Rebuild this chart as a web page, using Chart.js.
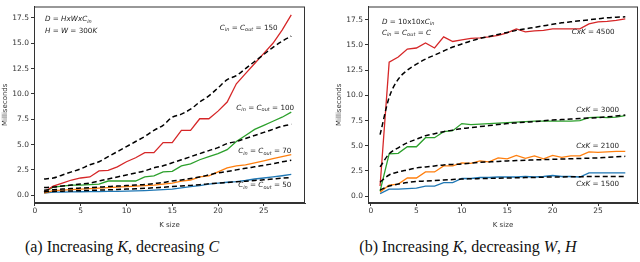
<!DOCTYPE html>
<html>
<head>
<meta charset="utf-8">
<script src="https://cdn.jsdelivr.net/npm/chart.js@4.4.1/dist/chart.umd.min.js"></script>
<style>
  body { margin: 0; background: #fff; width: 640px; height: 262px; position: relative; overflow: hidden; }
  .box { position: absolute; top: 0; width: 320px; height: 230px; }
  .cap { position: absolute; top: 238px; font: 16px "Liberation Serif", serif; color: #111; white-space: nowrap; transform: translateX(-50%); }
</style>
</head>
<body>
<div class="box" style="left:0"><canvas id="chartA" width="320" height="230"></canvas></div>
<div class="box" style="left:320px"><canvas id="chartB" width="320" height="230"></canvas></div>
<div class="cap" style="left:122px">(a) Increasing <i>K</i>, decreasing <i>C</i></div>
<div class="cap" style="left:468px">(b) Increasing <i>K</i>, decreasing <i>W</i>, <i>H</i></div>

<script>
// kernel sizes 1..28
const kSizes = [1,2,3,4,5,6,7,8,9,10,11,12,13,14,15,16,17,18,19,20,21,22,23,24,25,26,27,28];
const yTicks = [0, 2.5, 5, 7.5, 10, 12.5, 15, 17.5];
const xTicks = [0, 5, 10, 15, 20, 25];

// (a) increasing K, decreasing C  (measured / fitted ms)
const a150 = [0.3,0.9,1.2,1.5,1.7,1.8,2.4,2.45,2.8,3.3,3.7,4.2,4.2,5.2,5.2,6.4,6.4,7.55,7.55,8.3,9.2,11.0,12.0,13.0,14.0,15.0,16.3,17.8];
const a150fit = [1.6,1.7,2.0,2.3,2.6,3.0,3.3,3.8,4.3,4.8,5.3,5.8,6.4,6.9,7.7,8.0,8.5,9.2,9.8,10.6,11.4,11.8,12.5,13.2,13.9,14.6,15.2,15.7];
const a100 = [0.3,0.8,0.9,1.0,1.0,1.05,1.1,1.4,1.4,1.4,1.4,1.8,1.9,2.3,2.35,2.9,3.1,3.5,3.8,4.1,4.5,5.3,5.9,6.5,6.9,7.3,7.7,8.2];
const a100fit = [0.75,0.8,0.9,1.0,1.1,1.2,1.4,1.6,1.8,2.0,2.2,2.4,2.7,2.9,3.2,3.5,3.8,4.1,4.4,4.7,5.1,5.3,5.6,5.9,6.2,6.5,6.8,7.0];
const a70 = [0.2,0.45,0.5,0.55,0.6,0.65,0.7,0.75,0.8,0.85,0.9,0.95,1.0,1.1,1.2,1.4,1.5,1.8,1.9,2.3,2.7,2.9,3.0,3.2,3.4,3.6,3.8,4.0];
const a70fit = [0.5,0.55,0.6,0.65,0.7,0.75,0.8,0.85,0.9,0.95,1.0,1.05,1.15,1.25,1.4,1.5,1.65,1.8,2.0,2.2,2.35,2.5,2.65,2.8,2.95,3.1,3.3,3.45];
const a50 = [0.2,0.3,0.3,0.32,0.34,0.35,0.36,0.37,0.38,0.4,0.42,0.45,0.5,0.55,0.6,0.72,0.85,0.95,1.1,1.2,1.28,1.35,1.45,1.6,1.7,1.8,1.92,2.05];
const a50fit = [0.35,0.37,0.4,0.42,0.45,0.47,0.5,0.53,0.56,0.6,0.64,0.68,0.73,0.79,0.85,0.91,0.97,1.04,1.12,1.2,1.26,1.32,1.38,1.45,1.52,1.6,1.68,1.75];

// (b) increasing K, decreasing W,H
const b4500 = [1.0,13.3,13.8,14.6,14.7,15.2,14.7,15.8,15.35,15.5,15.65,15.7,15.8,15.95,16.2,16.6,16.3,16.4,16.45,16.6,16.6,16.6,16.6,17.1,17.3,17.35,17.45,17.6];
const b4500fit = [6.1,9.8,11.6,12.5,13.1,13.6,14.0,14.4,14.8,15.1,15.4,15.65,15.85,16.05,16.25,16.45,16.6,16.75,16.9,17.05,17.2,17.3,17.4,17.5,17.6,17.7,17.75,17.8];
const b3000 = [0.5,4.2,4.25,4.9,4.9,5.8,5.8,6.4,6.5,7.2,7.1,7.15,7.2,7.25,7.3,7.35,7.4,7.45,7.45,7.45,7.45,7.45,7.5,7.8,7.85,7.8,7.85,8.0];
const b3000fit = [2.9,4.2,4.8,5.3,5.65,6.0,6.2,6.4,6.55,6.7,6.8,6.9,7.0,7.1,7.2,7.27,7.34,7.4,7.48,7.55,7.6,7.65,7.7,7.75,7.8,7.87,7.95,8.05];
const b2100 = [0.4,1.1,1.2,1.8,1.8,2.4,2.4,3.0,3.0,3.3,3.25,3.5,3.4,3.8,3.7,4.05,3.75,4.0,3.7,4.05,3.85,4.0,4.0,4.4,4.35,4.4,4.45,4.45];
const b2100fit = [1.4,2.1,2.4,2.6,2.8,2.9,3.0,3.1,3.15,3.2,3.28,3.35,3.4,3.45,3.5,3.53,3.56,3.6,3.63,3.65,3.68,3.71,3.74,3.77,3.8,3.85,3.9,3.95];
const b1500 = [0.25,0.7,0.7,0.75,0.8,1.0,1.0,1.35,1.35,1.75,1.75,1.85,1.85,1.9,1.9,1.9,1.95,1.9,1.95,2.05,1.95,1.95,1.9,2.3,2.3,2.3,2.3,2.3];
const b1500fit = [0.6,1.0,1.2,1.35,1.45,1.5,1.55,1.6,1.65,1.7,1.72,1.74,1.76,1.78,1.8,1.82,1.84,1.86,1.88,1.9,1.91,1.92,1.93,1.94,1.95,1.95,1.96,1.96];

const BLUE = "#1f77b4", ORANGE = "#ff7f0e", GREEN = "#2ca02c", RED = "#d62728";
const FONT = "DejaVu Sans";

const toXY = (vals) => vals.map((v, i) => ({ x: kSizes[i], y: v }));

const solid = (vals, color) => ({
  data: toXY(vals), borderColor: color, borderWidth: 1.3, pointRadius: 0, tension: 0
});
const dashed = (vals) => ({
  data: toXY(vals), borderColor: "#000", borderWidth: 1.5, borderDash: [5, 3],
  pointRadius: 0, cubicInterpolationMode: "monotone"
});

// draws mixed italic / subscript text like C_in
function drawRich(ctx, x, y, parts, size) {
  let cx = x;
  parts.forEach(([txt, kind]) => {
    const sub = kind === "s";
    const fs = sub ? size * 0.7 : size;
    ctx.font = (kind === "n" ? "" : "italic ") + fs + "px " + FONT;
    ctx.fillText(txt, cx, sub ? y + size * 0.25 : y);
    cx += ctx.measureText(txt).width;
  });
}

const frameAndNotes = (notes) => ({
  id: "frameNotes",
  afterDraw(chart) {
    const { ctx, chartArea: a, scales } = chart;
    ctx.save();
    ctx.strokeStyle = "#333";
    ctx.lineWidth = 1;
    ctx.strokeRect(a.left + 0.5, a.top + 0.5, a.right - a.left - 1, a.bottom - a.top - 1);
    ctx.fillStyle = "#222";
    ctx.textBaseline = "middle";
    notes.forEach(n => {
      drawRich(ctx, scales.x.getPixelForValue(n.x), scales.y.getPixelForValue(n.y), n.parts, 7.2);
    });
    ctx.restore();
  }
});

const cinCout = (v) => [["C","i"],["in","s"],[" = ","n"],["C","i"],["out","s"],[" = " + v,"n"]];

function makeChart(id, datasets, xr, yr, padLeft, padRight, notes) {
  const ctx = document.getElementById(id).getContext("2d");
  return new Chart(ctx, {
    type: "line",
    data: { datasets: datasets },
    options: {
      responsive: false,
      animation: false,
      events: [],
      layout: { padding: { left: padLeft, right: padRight, top: 1, bottom: 0 } },
      plugins: { legend: { display: false }, tooltip: { enabled: false } },
      scales: {
        x: {
          type: "linear", min: xr[0], max: xr[1],
          afterBuildTicks: (s) => { s.ticks = xTicks.map(v => ({ value: v })); },
          afterFit: (s) => { s.height = 27; },
          grid: { drawOnChartArea: false, tickLength: 3, color: "#333" },
          border: { color: "#333" },
          ticks: { color: "#333", font: { family: FONT, size: 7.5 }, padding: 1, maxRotation: 0 },
          title: { display: true, text: "K size", color: "#333", font: { family: FONT, size: 7 }, padding: { top: 0, bottom: 1 } }
        },
        y: {
          min: yr[0], max: yr[1],
          afterBuildTicks: (s) => { s.ticks = yTicks.map(v => ({ value: v })); },
          afterFit: (s) => { s.width = 34; },
          grid: { drawOnChartArea: false, tickLength: 3, color: "#333" },
          border: { color: "#333" },
          ticks: { color: "#333", font: { family: FONT, size: 7.5 }, padding: 2, callback: (v) => v.toFixed(1) },
          title: { display: true, text: "Milliseconds", color: "#333", font: { family: FONT, size: 7 }, padding: { top: 1, bottom: 0 } }
        }
      }
    },
    plugins: [frameAndNotes(notes)]
  });
}

makeChart("chartA", [
  dashed(a150fit), dashed(a100fit), dashed(a70fit), dashed(a50fit),
  solid(a150, RED), solid(a100, GREEN), solid(a70, ORANGE), solid(a50, BLUE)
], [-0.1, 29.5], [-0.77, 18.63], 0, 15, [
  { x: 1.1, y: 17.35, parts: [["D","i"],[" = ","n"],["HxWxC","i"],["in","s"]] },
  { x: 1.1, y: 16.2, parts: [["H","i"],[" = ","n"],["W","i"],[" = 300","n"],["K","i"]] },
  { x: 20.2, y: 16.5, parts: cinCout(150) },
  { x: 22.0, y: 8.64, parts: cinCout(100) },
  { x: 22.2, y: 4.32, parts: cinCout(70) },
  { x: 22.2, y: 0.96, parts: cinCout(50) }
]);

makeChart("chartB", [
  dashed(b4500fit), dashed(b3000fit), dashed(b2100fit), dashed(b1500fit),
  solid(b4500, RED), solid(b3000, GREEN), solid(b2100, ORANGE), solid(b1500, BLUE)
], [-0.33, 29.4], [-0.68, 18.82], 14, 2, [
  { x: 1.2, y: 17.3, parts: [["D","i"],[" = 10x10x","n"],["C","i"],["in","s"]] },
  { x: 1.2, y: 16.2, parts: [["C","i"],["in","s"],[" = ","n"],["C","i"],["out","s"],[" = ","n"],["C","i"]] },
  { x: 22.1, y: 16.3, parts: [["CxK","i"],[" = 4500","n"]] },
  { x: 22.6, y: 8.5, parts: [["CxK","i"],[" = 3000","n"]] },
  { x: 22.6, y: 5.0, parts: [["CxK","i"],[" = 2100","n"]] },
  { x: 22.6, y: 1.15, parts: [["CxK","i"],[" = 1500","n"]] }
]);
</script>
</body>
</html>
